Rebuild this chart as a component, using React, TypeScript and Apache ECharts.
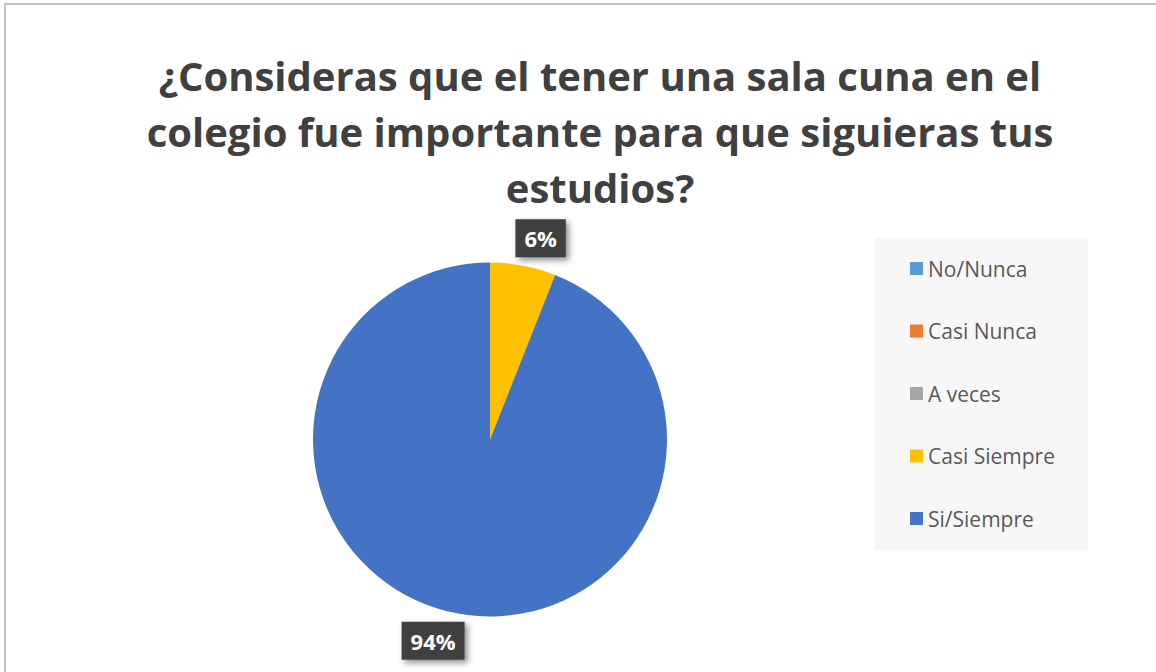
import React, { useEffect, useRef } from "react";
import * as echarts from "echarts";

const titleLines = [
  "¿Consideras que el tener una sala cuna en el",
  "colegio fue importante para que siguieras tus",
  "estudios?",
];
const categories = ["No/Nunca", "Casi Nunca", "A veces", "Casi Siempre", "Si/Siempre"];
const values = [0, 0, 0, 6, 94];
const colors = ["#5B9BD5", "#ED7D31", "#A5A5A5", "#FFC000", "#4472C4"];

export default function App() {
  const ref = useRef<HTMLDivElement>(null);
  useEffect(() => {
    if (!ref.current) return;
    const chart = echarts.init(ref.current, undefined, { renderer: "svg" });
    const data = categories.map((name, i) => ({
      name,
      value: values[i],
      itemStyle: { color: colors[i] },
      label: { show: values[i] > 0 },
    }));
    chart.setOption({
      animation: false,
      backgroundColor: "#ffffff",
      graphic: [
        {
          type: "rect",
          shape: { x: 5, y: 4, width: 1300, height: 800 },
          style: { fill: "none", stroke: "#c4c4c4", lineWidth: 2 },
          silent: true,
        },
        {
          type: "text",
          x: 600,
          y: 47,
          silent: true,
          style: {
            text: titleLines.join("\n"),
            align: "center",
            verticalAlign: "top",
            fontFamily: "Open Sans",
            fontWeight: "bold",
            fontSize: 40,
            lineHeight: 56,
            fill: "#404040",
          },
        },
      ],
      legend: {
        orient: "vertical",
        left: 875,
        top: 238,
        backgroundColor: "#f7f7f7",
        padding: [20, 33, 21, 35],
        itemGap: 41.5,
        itemWidth: 13,
        itemHeight: 13,
        icon: "rect",
        selectedMode: false,
        data: categories,
        textStyle: {
          fontFamily: "Open Sans",
          fontSize: 21,
          lineHeight: 20,
          color: "#595959",
        },
      },
      series: [
        {
          type: "pie",
          center: [490, 439.5],
          radius: 177,
          startAngle: 90,
          clockwise: true,
          data,
          label: {
            show: true,
            position: "outside",
            formatter: (p: any) => Math.round(p.percent) + "%",
            color: "#ffffff",
            fontFamily: "Open Sans",
            fontWeight: "bold",
            fontSize: 22,
            backgroundColor: "#404040",
            padding: [8, 9],
            shadowColor: "rgba(0,0,0,0.45)",
            shadowBlur: 6,
            shadowOffsetX: 3,
            shadowOffsetY: 3,
            distanceToLabelLine: -13,
          },
          labelLine: { show: false, length: 28, length2: 0 },
          emphasis: { disabled: true },
        },
      ],
    });
    return () => chart.dispose();
  }, []);
  return (
    <div
      ref={ref}
      style={{ position: "absolute", left: 0, top: 0, width: 1156, height: 672 }}
    />
  );
}
